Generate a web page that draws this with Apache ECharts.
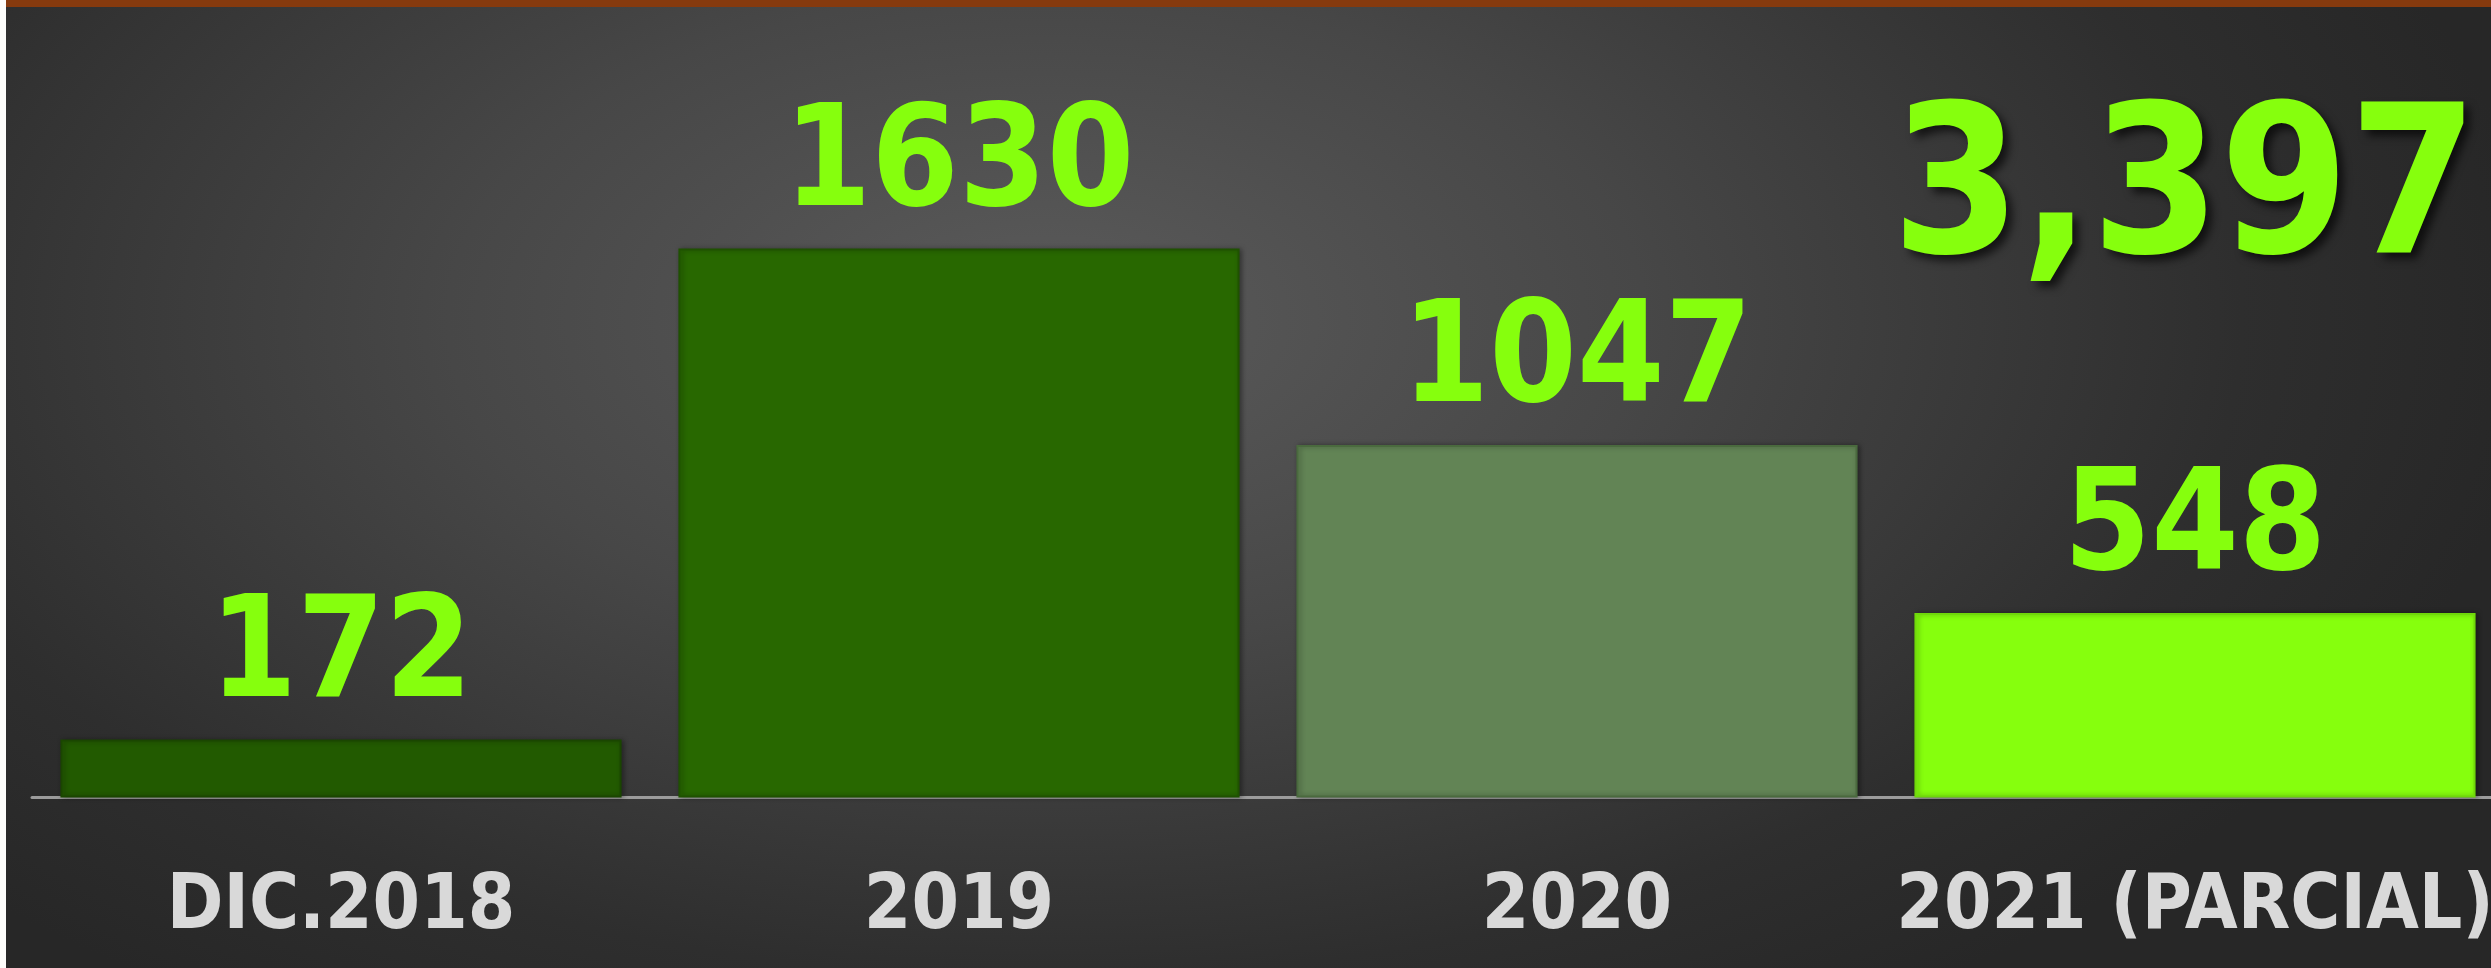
<!DOCTYPE html>
<html>
<head>
<meta charset="utf-8">
<script src="https://cdn.jsdelivr.net/npm/echarts@6/dist/echarts.min.js"></script>
<style>
  html, body { margin: 0; padding: 0; background: #ffffff; }
  #chart {
    position: absolute; left: 0; top: 0; width: 2491px; height: 968px;
    background: radial-gradient(ellipse 60% 85% at 42% 33%, #5b5b5b 0%, #474747 40%, #2e2e2e 80%, #272727 100%);
  }
</style>
</head>
<body>
<div id="chart"></div>
<script>
const categories = ['DIC.2018', '2019', '2020', '2021 (PARCIAL)'];
const values = [172, 1630, 1047, 548];
const barColors = ['#225a00', '#286800', '#628455', '#86ff0d'];
const barBorders = ['#1a4600', '#1f5200', '#4a6a3e', '#6fd80a'];

const total = values.reduce((a, b) => a + b, 0);
const totalText = total.toLocaleString('en-US');

const NARROW = "'DejaVu Sans Condensed', 'Liberation Sans Narrow', sans-serif";

const chart = echarts.init(document.getElementById('chart'), null, { renderer: 'canvas' });
chart.setOption({
  backgroundColor: 'transparent',
  animation: false,
  grid: { left: 32, width: 2472, top: 124, bottom: 170.5, containLabel: false, outerBoundsMode: 'none' },
  xAxis: {
    type: 'category',
    data: categories,
    boundaryGap: true,
    axisLine: { show: true, lineStyle: { color: '#9c9c9c', width: 3 } },
    axisTick: { show: false },
    axisLabel: {
      color: '#d9d9d9',
      fontFamily: NARROW,
      fontWeight: 'bold',
      fontSize: 76,
      margin: 73,
      interval: 0,
      hideOverlap: false
    }
  },
  yAxis: {
    type: 'value',
    min: 0,
    max: 2000,
    show: false,
    splitLine: { show: false }
  },
  series: [{
    type: 'bar',
    barCategoryGap: '9.2%',
    data: values.map((v, i) => ({
      value: v,
      itemStyle: {
        color: barColors[i],
        borderColor: barBorders[i],
        borderWidth: 2,
        shadowColor: 'rgba(0,0,0,0.35)',
        shadowBlur: 5,
        shadowOffsetX: 2,
        shadowOffsetY: 0
      }
    })),
    label: {
      show: true,
      position: 'top',
      distance: 10,
      color: '#86ff0d',
      fontFamily: NARROW,
      fontWeight: 'bold',
      fontSize: 140
    }
  }],
  graphic: [
    { type: 'rect', left: 0, top: 0, shape: { width: 2491, height: 7 }, style: { fill: '#863a0e' }, z: 100 },
    { type: 'rect', left: 0, top: 0, shape: { width: 6, height: 968 }, style: { fill: '#fdfdfb' }, z: 101 },
    {
      type: 'text',
      z: 50,
      style: {
        x: 2478,
        y: 198,
        text: totalText,
        align: 'right',
        verticalAlign: 'middle',
        fill: '#86ff0d',
        font: "bold 206px 'DejaVu Sans Condensed', 'Liberation Sans Narrow', sans-serif",
        textShadowColor: 'rgba(0,0,0,0.65)',
        textShadowBlur: 8,
        textShadowOffsetX: 6,
        textShadowOffsetY: 6
      }
    }
  ]
});
</script>
</body>
</html>
